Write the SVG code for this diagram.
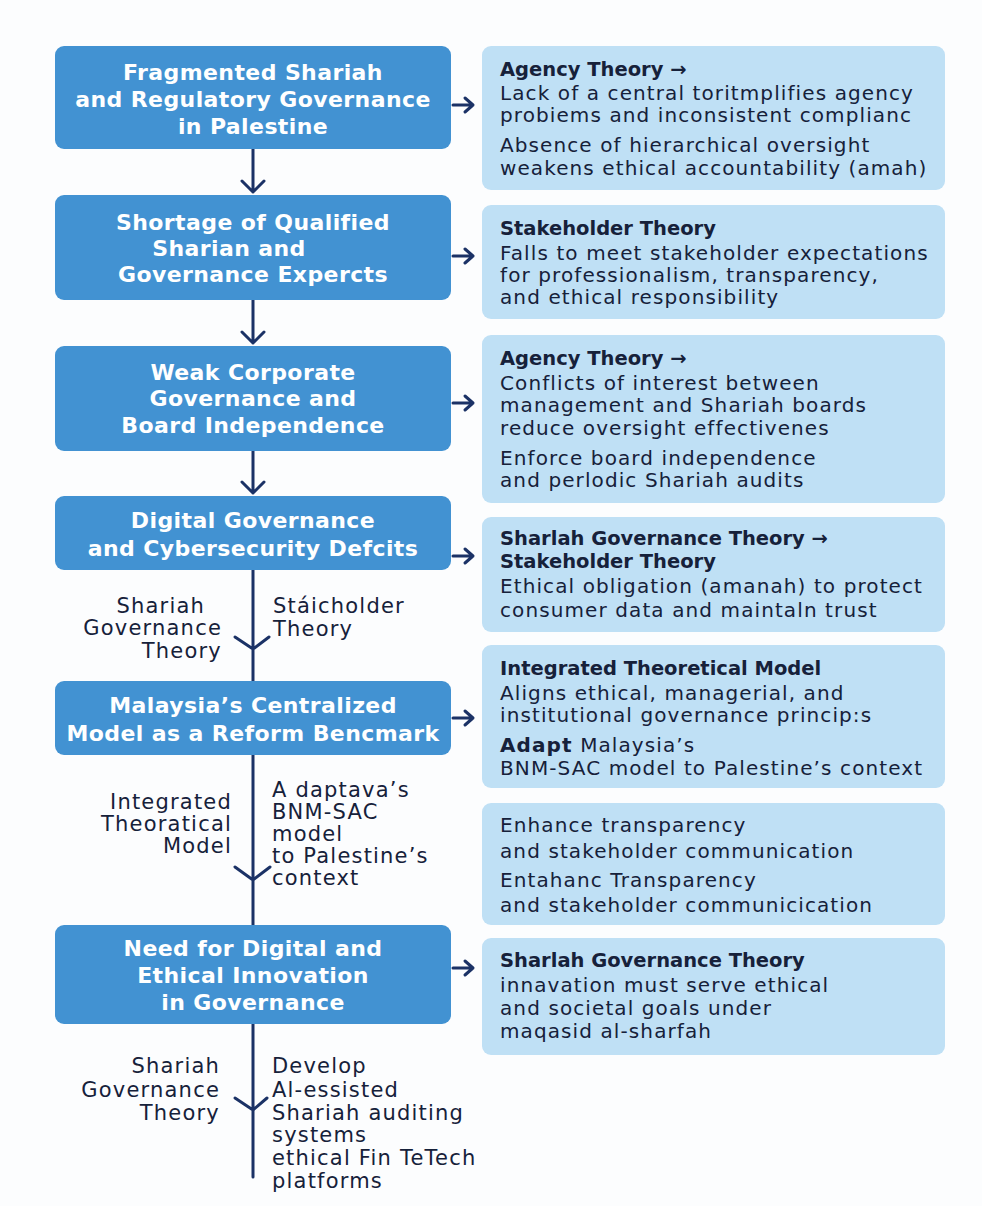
<svg xmlns="http://www.w3.org/2000/svg" width="982" height="1206" viewBox="0 0 982 1206">
<defs>
<style>
.lb{fill:#4292d2;}
.rb{fill:#bfe0f5;}
.lt{font-family:"DejaVu Sans",sans-serif;font-weight:bold;font-size:22px;fill:#ffffff;text-anchor:middle;letter-spacing:0.4px;}
.h{font-family:"DejaVu Sans",sans-serif;font-weight:bold;font-size:19.5px;fill:#16213a;}
.b{font-family:"DejaVu Sans",sans-serif;font-size:20px;fill:#16213a;letter-spacing:1.1px;}
.lab{font-family:"DejaVu Sans",sans-serif;font-size:21px;fill:#16213a;letter-spacing:1.2px;}
.labe{text-anchor:end;}
.c{stroke:#1b3266;stroke-width:3;fill:none;stroke-linecap:round;stroke-linejoin:round;}
</style>
</defs>
<rect x="0" y="0" width="982" height="1206" fill="#fcfdfe"/>

<g id="connectors">
<path class="c" d="M253 149V192M242 181L253 192L264 181"/>
<path class="c" d="M253 300V343M242 332L253 343L264 332"/>
<path class="c" d="M253 451V493M242 482L253 493L264 482"/>
<path class="c" d="M253 570V681M235 637L253 649L269 637"/>
<path class="c" d="M253 755V925M235 867L253 880L270 867"/>
<path class="c" d="M253 1024V1177M235 1098L253 1110L267 1098"/>
<path class="c" d="M453 105H473M465 98L473 105L465 112"/>
<path class="c" d="M453 256H473M465 249L473 256L465 263"/>
<path class="c" d="M453 403H473M465 396L473 403L465 410"/>
<path class="c" d="M453 556H473M465 549L473 556L465 563"/>
<path class="c" d="M453 718H473M465 711L473 718L465 725"/>
<path class="c" d="M453 968H473M465 961L473 968L465 975"/>
</g>

<g id="box1">
<rect class="lb" x="55" y="46" width="396" height="103" rx="9"/>
<text class="lt" x="253" y="80">Fragmented Shariah</text>
<text class="lt" x="253" y="107">and Regulatory Governance</text>
<text class="lt" x="253" y="134">in Palestine</text>
</g>
<g id="box2">
<rect class="lb" x="55" y="195" width="396" height="105" rx="9"/>
<text class="lt" x="253" y="230">Shortage of Qualified</text>
<text class="lt" x="229" y="256">Sharian and</text>
<text class="lt" x="253" y="282">Governance Expercts</text>
</g>
<g id="box3">
<rect class="lb" x="55" y="346" width="396" height="105" rx="9"/>
<text class="lt" x="253" y="380">Weak Corporate</text>
<text class="lt" x="253" y="406">Governance and</text>
<text class="lt" x="253" y="433">Board Independence</text>
</g>
<g id="box4">
<rect class="lb" x="55" y="496" width="396" height="74" rx="9"/>
<text class="lt" x="253" y="528">Digital Governance</text>
<text class="lt" x="253" y="556">and Cybersecurity Defcits</text>
</g>
<g id="box5">
<rect class="lb" x="55" y="681" width="396" height="74" rx="9"/>
<text class="lt" x="253" y="713">Malaysia’s Centralized</text>
<text class="lt" x="253" y="741">Model as a Reform Bencmark</text>
</g>
<g id="box6">
<rect class="lb" x="55" y="925" width="396" height="99" rx="9"/>
<text class="lt" x="253" y="956">Need for Digital and</text>
<text class="lt" x="253" y="983">Ethical Innovation</text>
<text class="lt" x="253" y="1010">in Governance</text>
</g>

<g id="label1">
<text class="lab labe" x="205" y="613">Shariah</text>
<text class="lab labe" x="222" y="635">Governance</text>
<text class="lab labe" x="222" y="658">Theory</text>
<text class="lab" x="273" y="613">Stáicholder</text>
<text class="lab" x="273" y="636">Theory</text>
</g>
<g id="label2">
<text class="lab labe" x="232" y="809">Integrated</text>
<text class="lab labe" x="232" y="831">Theoratical</text>
<text class="lab labe" x="232" y="853">Model</text>
<text class="lab" x="272" y="797">A daptava’s</text>
<text class="lab" x="272" y="819">BNM-SAC</text>
<text class="lab" x="272" y="841">model</text>
<text class="lab" x="272" y="863">to Palestine’s</text>
<text class="lab" x="272" y="885">context</text>
</g>
<g id="label3">
<text class="lab labe" x="220" y="1073">Shariah</text>
<text class="lab labe" x="220" y="1097">Governance</text>
<text class="lab labe" x="220" y="1120">Theory</text>
<text class="lab" x="272" y="1073">Develop</text>
<text class="lab" x="272" y="1097">Al-essisted</text>
<text class="lab" x="272" y="1120">Shariah auditing</text>
<text class="lab" x="272" y="1142">systems</text>
<text class="lab" x="272" y="1165">ethical Fin TeTech</text>
<text class="lab" x="272" y="1188">platforms</text>
</g>

<g id="r1">
<rect class="rb" x="482" y="46" width="463" height="144" rx="9"/>
<text class="h" x="500" y="76">Agency Theory →</text>
<text class="b" x="500" y="100">Lack of a central toritmplifies agency</text>
<text class="b" x="500" y="122">probiems and inconsistent complianc</text>
<text class="b" x="500" y="152">Absence of hierarchical oversight</text>
<text class="b" x="500" y="175">weakens ethical accountability (amah)</text>
</g>
<g id="r2">
<rect class="rb" x="482" y="205" width="463" height="114" rx="9"/>
<text class="h" x="500" y="235">Stakeholder Theory</text>
<text class="b" x="500" y="260">Falls to meet stakeholder expectations</text>
<text class="b" x="500" y="282">for professionalism, transparency,</text>
<text class="b" x="500" y="304">and ethical responsibility</text>
</g>
<g id="r3">
<rect class="rb" x="482" y="335" width="463" height="168" rx="9"/>
<text class="h" x="500" y="365">Agency Theory →</text>
<text class="b" x="500" y="390">Conflicts of interest between</text>
<text class="b" x="500" y="412">management and Shariah boards</text>
<text class="b" x="500" y="435">reduce oversight effectivenes</text>
<text class="b" x="500" y="465">Enforce board independence</text>
<text class="b" x="500" y="487">and perlodic Shariah audits</text>
</g>
<g id="r4">
<rect class="rb" x="482" y="517" width="463" height="115" rx="9"/>
<text class="h" x="500" y="545">Sharlah Governance Theory →</text>
<text class="h" x="500" y="568">Stakeholder Theory</text>
<text class="b" x="500" y="593">Ethical obligation (amanah) to protect</text>
<text class="b" x="500" y="617">consumer data and maintaln trust</text>
</g>
<g id="r5">
<rect class="rb" x="482" y="645" width="463" height="143" rx="9"/>
<text class="h" x="500" y="675">Integrated Theoretical Model</text>
<text class="b" x="500" y="700">Aligns ethical, managerial, and</text>
<text class="b" x="500" y="722">institutional governance princip:s</text>
<text class="b" x="500" y="752"><tspan font-weight="bold">Adapt</tspan> Malaysia’s</text>
<text class="b" x="500" y="775">BNM-SAC model to Palestine’s context</text>
</g>
<g id="r6">
<rect class="rb" x="482" y="803" width="463" height="122" rx="9"/>
<text class="b" x="500" y="832">Enhance transparency</text>
<text class="b" x="500" y="858">and stakeholder communication</text>
<text class="b" x="500" y="887">Entahanc Transparency</text>
<text class="b" x="500" y="912">and stakeholder communicication</text>
</g>
<g id="r7">
<rect class="rb" x="482" y="938" width="463" height="117" rx="9"/>
<text class="h" x="500" y="967">Sharlah Governance Theory</text>
<text class="b" x="500" y="992">innavation must serve ethical</text>
<text class="b" x="500" y="1015">and societal goals under</text>
<text class="b" x="500" y="1038">maqasid al-sharfah</text>
</g>
</svg>
